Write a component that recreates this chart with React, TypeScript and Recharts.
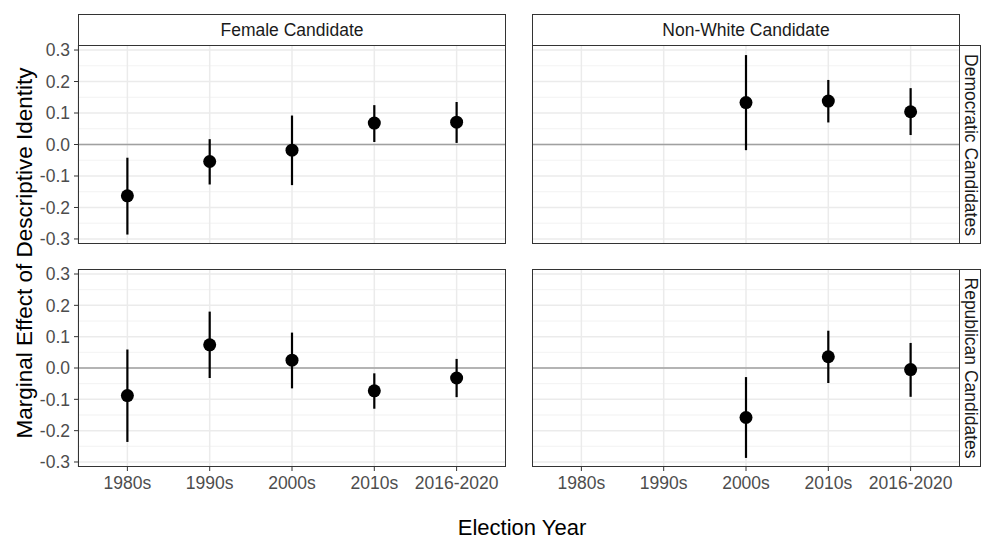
import React from 'react';
import {
  ScatterChart,
  Scatter,
  XAxis,
  YAxis,
  CartesianGrid,
  ReferenceLine,
  ErrorBar,
} from 'recharts';

const decades = ['1980s', '1990s', '2000s', '2010s', '2016-2020'];
const yTicks = [-0.3, -0.2, -0.1, 0, 0.1, 0.2, 0.3];
const yMinorTicks = [-0.25, -0.15, -0.05, 0.05, 0.15, 0.25];

// Female candidates, Democratic
const femaleDemEst = [-0.163, -0.054, -0.018, 0.068, 0.071];
const femaleDemLow = [-0.286, -0.127, -0.129, 0.008, 0.005];
const femaleDemHigh = [-0.042, 0.017, 0.092, 0.125, 0.135];

// Non-white candidates, Democratic (no estimates before 2000s)
const nonWhiteDemEst = [null, null, 0.133, 0.138, 0.104];
const nonWhiteDemLow = [null, null, -0.018, 0.07, 0.03];
const nonWhiteDemHigh = [null, null, 0.284, 0.205, 0.179];

// Female candidates, Republican
const femaleRepEst = [-0.088, 0.074, 0.025, -0.073, -0.032];
const femaleRepLow = [-0.236, -0.032, -0.065, -0.13, -0.093];
const femaleRepHigh = [0.059, 0.18, 0.113, -0.017, 0.029];

// Non-white candidates, Republican
const nonWhiteRepEst = [null, null, -0.158, 0.036, -0.005];
const nonWhiteRepLow = [null, null, -0.287, -0.048, -0.092];
const nonWhiteRepHigh = [null, null, -0.029, 0.119, 0.08];

const FONT = '"Liberation Sans", Arial, Helvetica, sans-serif';
const Y_DOMAIN: [number, number] = [-0.316, 0.316];
const X_DOMAIN: [number, number] = [-0.6, 4.6];
const PAD = 10; // room above/below the plot so end tick labels are not clipped

type Row = { x: number; y: number; err: [number, number] };

function toRows(est: (number | null)[], low: (number | null)[], high: (number | null)[]): Row[] {
  const rows: Row[] = [];
  est.forEach((v, i) => {
    if (v == null) return;
    rows.push({ x: i, y: v, err: [v - (low[i] as number), (high[i] as number) - v] });
  });
  return rows;
}

const Dot = (props: any) => <circle cx={props.cx} cy={props.cy} r={6.5} fill="#000" />;

function Panel({
  rows,
  left,
  top,
  width,
  plotHeight,
  showX,
  showY,
}: {
  rows: Row[];
  left: number;
  top: number;
  width: number;
  plotHeight: number;
  showX: boolean;
  showY: boolean;
}) {
  const tickStyle = { fill: '#4D4D4D', fontSize: 17.5, fontFamily: FONT };
  const height = plotHeight + PAD + (showX ? 40 : PAD);
  return (
    <div style={{ position: 'absolute', left, top: top - PAD, width, height }}>
      <ScatterChart
        width={width}
        height={height}
        margin={{ top: PAD, right: 0, bottom: showX ? 0 : PAD, left: 0 }}
      >
        <CartesianGrid
          horizontalValues={yMinorTicks}
          vertical={false}
          stroke="#EFEFEF"
          strokeWidth={0.8}
        />
        <CartesianGrid horizontalValues={yTicks} stroke="#EBEBEB" strokeWidth={1.5} />
        <XAxis
          type="number"
          dataKey="x"
          domain={X_DOMAIN}
          ticks={[0, 1, 2, 3, 4]}
          interval={0}
          allowDataOverflow
          hide={!showX}
          height={40}
          axisLine={false}
          tickLine={{ stroke: '#333333', strokeWidth: 1 }}
          tickSize={4}
          tickMargin={6}
          tick={tickStyle}
          tickFormatter={(v: number) => decades[v]}
        />
        <YAxis
          type="number"
          dataKey="y"
          domain={Y_DOMAIN}
          ticks={yTicks}
          interval={0}
          allowDataOverflow
          hide={!showY}
          width={78}
          axisLine={false}
          tickLine={{ stroke: '#333333', strokeWidth: 1 }}
          tickSize={4}
          tickMargin={4}
          tick={tickStyle}
          tickFormatter={(v: number) => v.toFixed(1)}
        />
        <ReferenceLine y={0} stroke="#A0A0A0" strokeWidth={1.5} />
        <Scatter data={rows} shape={Dot} isAnimationActive={false}>
          <ErrorBar dataKey="err" direction="y" width={0} stroke="#000" strokeWidth={2.2} />
        </Scatter>
      </ScatterChart>
    </div>
  );
}

export default function App() {
  const stripText = { fontFamily: FONT, fontSize: 17.5, fill: '#1A1A1A' };
  return (
    <div
      style={{
        position: 'absolute',
        left: 0,
        top: 0,
        width: 982,
        height: 541,
        background: '#fff',
        fontFamily: FONT,
      }}
    >
      <Panel rows={toRows(femaleDemEst, femaleDemLow, femaleDemHigh)} left={0} top={45} width={506} plotHeight={199} showX={false} showY />
      <Panel rows={toRows(nonWhiteDemEst, nonWhiteDemLow, nonWhiteDemHigh)} left={532} top={45} width={428} plotHeight={199} showX={false} showY={false} />
      <Panel rows={toRows(femaleRepEst, femaleRepLow, femaleRepHigh)} left={0} top={269} width={506} plotHeight={198} showX showY />
      <Panel rows={toRows(nonWhiteRepEst, nonWhiteRepLow, nonWhiteRepHigh)} left={532} top={269} width={428} plotHeight={198} showX showY={false} />

      <svg width={982} height={541} style={{ position: 'absolute', left: 0, top: 0, pointerEvents: 'none' }}>
        {/* panel borders */}
        <rect x={78.5} y={45.5} width={427} height={198} fill="none" stroke="#333" strokeWidth={1} />
        <rect x={532.5} y={45.5} width={427} height={198} fill="none" stroke="#333" strokeWidth={1} />
        <rect x={78.5} y={269.5} width={427} height={197} fill="none" stroke="#333" strokeWidth={1} />
        <rect x={532.5} y={269.5} width={427} height={197} fill="none" stroke="#333" strokeWidth={1} />

        {/* column strips */}
        <rect x={78.5} y={14.5} width={427} height={31} fill="#fff" stroke="#333" strokeWidth={1} />
        <rect x={532.5} y={14.5} width={427} height={31} fill="#fff" stroke="#333" strokeWidth={1} />
        <text x={292} y={36} textAnchor="middle" style={stripText}>Female Candidate</text>
        <text x={746} y={36} textAnchor="middle" style={stripText}>Non-White Candidate</text>

        {/* row strips */}
        <rect x={959.5} y={45.5} width={21} height={198} fill="#fff" stroke="#333" strokeWidth={1} />
        <rect x={959.5} y={269.5} width={21} height={197} fill="#fff" stroke="#333" strokeWidth={1} />
        <text transform="translate(965, 145) rotate(90)" textAnchor="middle" style={stripText}>
          Democratic Candidates
        </text>
        <text transform="translate(965, 368) rotate(90)" textAnchor="middle" style={stripText}>
          Republican Candidates
        </text>

        {/* axis titles */}
        <text x={522} y={535} textAnchor="middle" style={{ fontFamily: FONT, fontSize: 22, fill: '#000' }}>
          Election Year
        </text>
        <text
          transform="translate(32, 253) rotate(-90)"
          textAnchor="middle"
          style={{ fontFamily: FONT, fontSize: 22.5, fill: '#000' }}
        >
          Marginal Effect of Descriptive Identity
        </text>
      </svg>
    </div>
  );
}
